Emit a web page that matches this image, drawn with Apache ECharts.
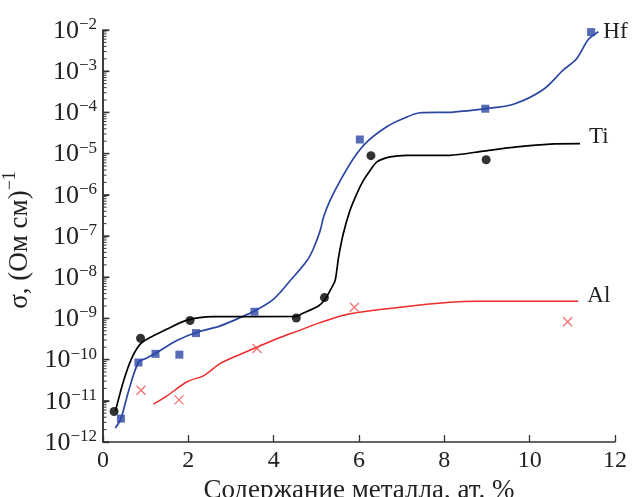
<!DOCTYPE html>
<html><head><meta charset="utf-8">
<script src="https://cdn.jsdelivr.net/npm/echarts@6/dist/echarts.min.js"></script>
<style>html,body{margin:0;padding:0;background:#fff}#c{width:636px;height:497px}</style>
</head><body><div id="c"></div>
<script>
// Ti
const tiPtsX = [0.26, 0.88, 2.04, 4.53, 5.19, 6.28, 8.98];
const tiPtsY = [5.5e-12, 3.3e-10, 8.9e-10, 1.02e-9, 3.2e-9, 8.9e-6, 7.1e-6];
const tiLineX = [0.29,0.48,0.68,0.91,1.50,1.97,2.59,4.53,4.66,5.05,5.21,5.32,5.44,5.52,5.63,5.79,5.95,6.10,6.26,6.42,6.73,7.12,8.13,8.91,9.70,10.48,11.18];
const tiLineY = [5.6e-12,3.0e-11,1.12e-10,2.6e-10,5.5e-10,9.1e-10,1.10e-9,1.12e-9,1.29e-9,2.0e-9,2.95e-9,4.7e-9,8.3e-9,3.0e-8,1.12e-7,4.2e-7,1.07e-6,2.2e-6,3.9e-6,6.3e-6,8.3e-6,9.1e-6,9.1e-6,1.15e-5,1.45e-5,1.70e-5,1.74e-5];
// Hf
const hfPtsX = [0.42, 0.83, 1.23, 1.79, 2.18, 3.55, 6.02, 8.96, 11.44];
const hfPtsY = [3.7e-12, 8.5e-11, 1.38e-10, 1.32e-10, 4.4e-10, 1.45e-9, 2.2e-5, 1.23e-4, 8.9e-3];
const hfLineX = [0.29,0.42,0.60,0.83,1.03,1.26,1.73,2.20,2.75,3.22,3.57,4.00,4.39,4.78,4.93,5.09,5.17,5.32,5.56,5.87,6.18,6.65,7.04,7.43,8.21,8.96,9.62,10.32,10.79,11.10,11.37,11.61];
const hfLineY = [2.2e-12,3.7e-12,1.74e-11,8.5e-11,1.10e-10,1.48e-10,2.9e-10,4.6e-10,6.6e-10,1.05e-9,1.55e-9,2.95e-9,8.3e-9,2.5e-8,4.9e-8,1.35e-7,2.9e-7,7.2e-7,2.2e-6,7.6e-6,1.9e-5,4.5e-5,7.1e-5,9.8e-5,1.02e-4,1.23e-4,1.58e-4,3.6e-4,1.07e-3,2.0e-3,5.8e-3,9.1e-3];
// Al
const alPtsX = [0.89, 1.78, 3.61, 5.89, 10.89];
const alPtsY = [1.8e-11, 1.05e-11, 1.86e-10, 1.86e-9, 8.3e-10];
const alLineX = [1.18,1.50,1.97,2.36,2.75,3.22,3.61,4.07,4.62,5.09,5.79,6.96,8.13,8.76,11.14];
const alLineY = [8.3e-12,1.32e-11,2.9e-11,4.1e-11,8.1e-11,1.35e-10,2.0e-10,3.2e-10,5.2e-10,7.9e-10,1.29e-9,1.86e-9,2.45e-9,2.6e-9,2.6e-9];

const xTicks = [0, 2, 4, 6, 8, 10, 12];
const yExpMin = -12, yExpMax = -2;

const zip = (a, b) => a.map((v, i) => [v, b[i]]);

const FONT = '"Liberation Serif", "DejaVu Serif", serif';
const BLUE = '#2b46a3', RED = '#ee2a2a', BLACK = '#000';
const AX = '#333';
const W = 636, H = 497;
const G = {left: 103, right: 21, top: 30, bottom: 55};

// y-axis line and ticks as graphic elements (log spacing of the axis range)
const plotH = H - G.top - G.bottom;
const yOf = lg => G.top + (yExpMax - lg) / (yExpMax - yExpMin) * plotH;
const axisG = [{type: 'line', silent: true, z: 100, shape: {x1: G.left, y1: G.top, x2: G.left, y2: H - G.bottom}, style: {stroke: AX, lineWidth: 1.5}}];
for (let e = yExpMin; e <= yExpMax; e++) {
  axisG.push({type: 'line', silent: true, z: 100, shape: {x1: G.left, y1: yOf(e), x2: G.left + 6.5, y2: yOf(e)}, style: {stroke: AX, lineWidth: 1.3}});
  if (e < yExpMax) for (let k = 2; k <= 9; k++) {
    const y = yOf(e + Math.log10(k));
    axisG.push({type: 'line', silent: true, z: 100, shape: {x1: G.left, y1: y, x2: G.left + 3.5, y2: y}, style: {stroke: AX, lineWidth: 1}});
  }
}

const chart = echarts.init(document.getElementById('c'), null, {renderer: 'canvas'});
chart.setOption({
  animation: false,
  backgroundColor: '#fff',
  grid: Object.assign({containLabel: false, outerBoundsMode: 'none'}, G),
  graphic: axisG,
  xAxis: {
    type: 'value', min: xTicks[0], max: xTicks[xTicks.length - 1], interval: 2,
    name: 'Содержание металла, ат. %', nameLocation: 'middle', nameGap: 27,
    nameTextStyle: {fontFamily: FONT, fontSize: 27, color: '#222'},
    axisLine: {show: true, onZero: false, lineStyle: {color: AX, width: 1.5}},
    axisTick: {show: true, inside: true, length: 7, lineStyle: {color: AX, width: 1.3}},
    axisLabel: {fontFamily: FONT, fontSize: 24, color: '#222', margin: 7},
    splitLine: {show: false}
  },
  yAxis: {
    type: 'log', logBase: 10, min: Math.pow(10, yExpMin), max: Math.pow(10, yExpMax), interval: 1,
    position: 'left',
    name: '{m|σ, (Ом см)}{s|−1}', nameLocation: 'middle', nameGap: 66,
    nameTextStyle: {fontFamily: FONT, color: '#222', padding: [0, 8, 0, 0],
      rich: {m: {fontFamily: FONT, fontSize: 27, color: '#222', lineHeight: 32, verticalAlign: 'bottom'},
             s: {fontFamily: FONT, fontSize: 18, color: '#222', verticalAlign: 'top', lineHeight: 32}}},
    axisLine: {show: true, onZero: false, lineStyle: {color: AX, width: 1.5}},
    axisTick: {show: true, inside: true, length: 6, lineStyle: {color: AX, width: 1.3}},
    axisLabel: {
      margin: 6,
      formatter: v => '{b|10}{s|−' + Math.round(-Math.log10(v)) + '}',
      rich: {b: {fontFamily: FONT, fontSize: 26, color: '#222', lineHeight: 28, verticalAlign: 'bottom'},
             s: {fontFamily: FONT, fontSize: 17, color: '#222', verticalAlign: 'top', lineHeight: 28}}
    },
    splitLine: {show: false}, minorTick: {show: false}
  },
  series: [
    {type: 'line', name: 'Hf', data: zip(hfLineX, hfLineY), smooth: 0.3, showSymbol: false,
      lineStyle: {color: BLUE, width: 1.7},
      endLabel: {show: true, formatter: 'Hf', fontFamily: FONT, fontSize: 23, color: '#222', distance: 5, offset: [0, 0]}},
    {type: 'line', name: 'Ti', data: zip(tiLineX, tiLineY), smooth: 0.25, showSymbol: false,
      lineStyle: {color: BLACK, width: 1.7},
      endLabel: {show: true, formatter: 'Ti', fontFamily: FONT, fontSize: 23, color: '#222', distance: 9, offset: [0, -7]}},
    {type: 'line', name: 'Al', data: zip(alLineX, alLineY), smooth: 0.3, showSymbol: false,
      lineStyle: {color: RED, width: 1.5},
      endLabel: {show: true, formatter: 'Al', fontFamily: FONT, fontSize: 23, color: '#222', distance: 9, offset: [0, -5]}},
    {type: 'scatter', data: zip(hfPtsX, hfPtsY), symbol: 'rect', symbolSize: 8, itemStyle: {color: BLUE}, z: 5},
    {type: 'scatter', data: zip(tiPtsX, tiPtsY), symbol: 'circle', symbolSize: 9, itemStyle: {color: BLACK}, z: 5},
    {type: 'scatter', data: zip(alPtsX, alPtsY), symbol: 'path://M0,0L10,10M10,0L0,10', symbolSize: 9,
      itemStyle: {color: 'none', borderColor: '#f04848', borderWidth: 1.2}, z: 5}
  ]
});
</script></body></html>
